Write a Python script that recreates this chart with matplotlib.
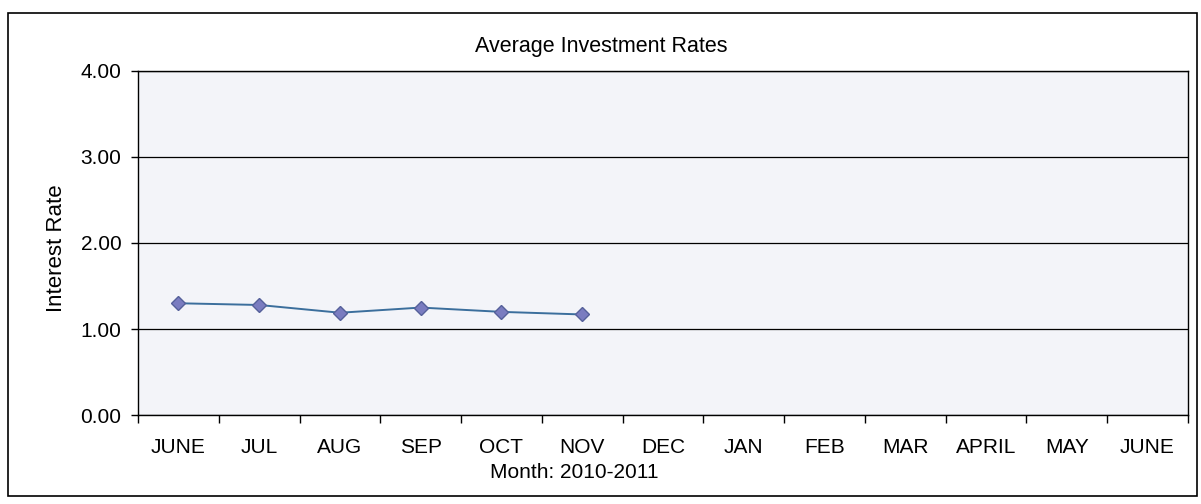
import matplotlib
matplotlib.use("Agg")
import matplotlib.pyplot as plt
from matplotlib.patches import Rectangle

# data
months = ["JUNE", "JUL", "AUG", "SEP", "OCT", "NOV", "DEC",
          "JAN", "FEB", "MAR", "APRIL", "MAY", "JUNE"]
rates = [1.30, 1.28, 1.19, 1.25, 1.20, 1.17]
y_ticks = [0, 1, 2, 3, 4]

plt.rcParams["font.family"] = ["Liberation Sans", "DejaVu Sans"]

fig = plt.figure(figsize=(12.01, 5.04), dpi=100)
ax = fig.add_axes([0.115, 0.176, 0.874, 0.684])
ax.set_facecolor("#f3f4f9")

# outer frame around the whole chart
fig.patches.append(Rectangle((0.007, 0.016), 0.99, 0.958, transform=fig.transFigure,
                             fill=False, edgecolor="black", linewidth=1.2))

x = list(range(len(rates)))
ax.plot(x, rates, color="#3b6e9c", linewidth=1.4, marker="D", markersize=7,
        markerfacecolor="#7a7cc0", markeredgecolor="#55609a", zorder=3)

ax.set_xlim(-0.5, len(months) - 0.5)
ax.set_ylim(0, 4)
ax.set_yticks(y_ticks)
ax.set_yticklabels([f"{v:.2f}" for v in y_ticks])
ax.yaxis.grid(True, color="black", linewidth=0.9)
ax.set_axisbelow(True)

# category labels between tick marks
ax.set_xticks([i - 0.5 for i in range(len(months) + 1)])
ax.set_xticklabels([])
ax.set_xticks(range(len(months)), minor=True)
ax.set_xticklabels(months, minor=True)
ax.tick_params(axis="x", which="major", direction="out", length=6, width=1)
ax.tick_params(axis="x", which="minor", length=0, pad=16, labelsize=15)
ax.tick_params(axis="y", direction="out", length=5, width=1, pad=7, labelsize=15)

for s in ax.spines.values():
    s.set_color("black")
    s.set_linewidth(1.0)

fig.text(0.501, 0.907, "Average Investment Rates", ha="center", va="center", fontsize=15.5)
fig.text(0.047, 0.508, "Interest Rate", ha="center", va="center", rotation=90, fontsize=16)
fig.text(0.478, 0.062, "Month: 2010-2011", ha="center", va="center", fontsize=15)

fig.savefig("out.png", dpi=100)
